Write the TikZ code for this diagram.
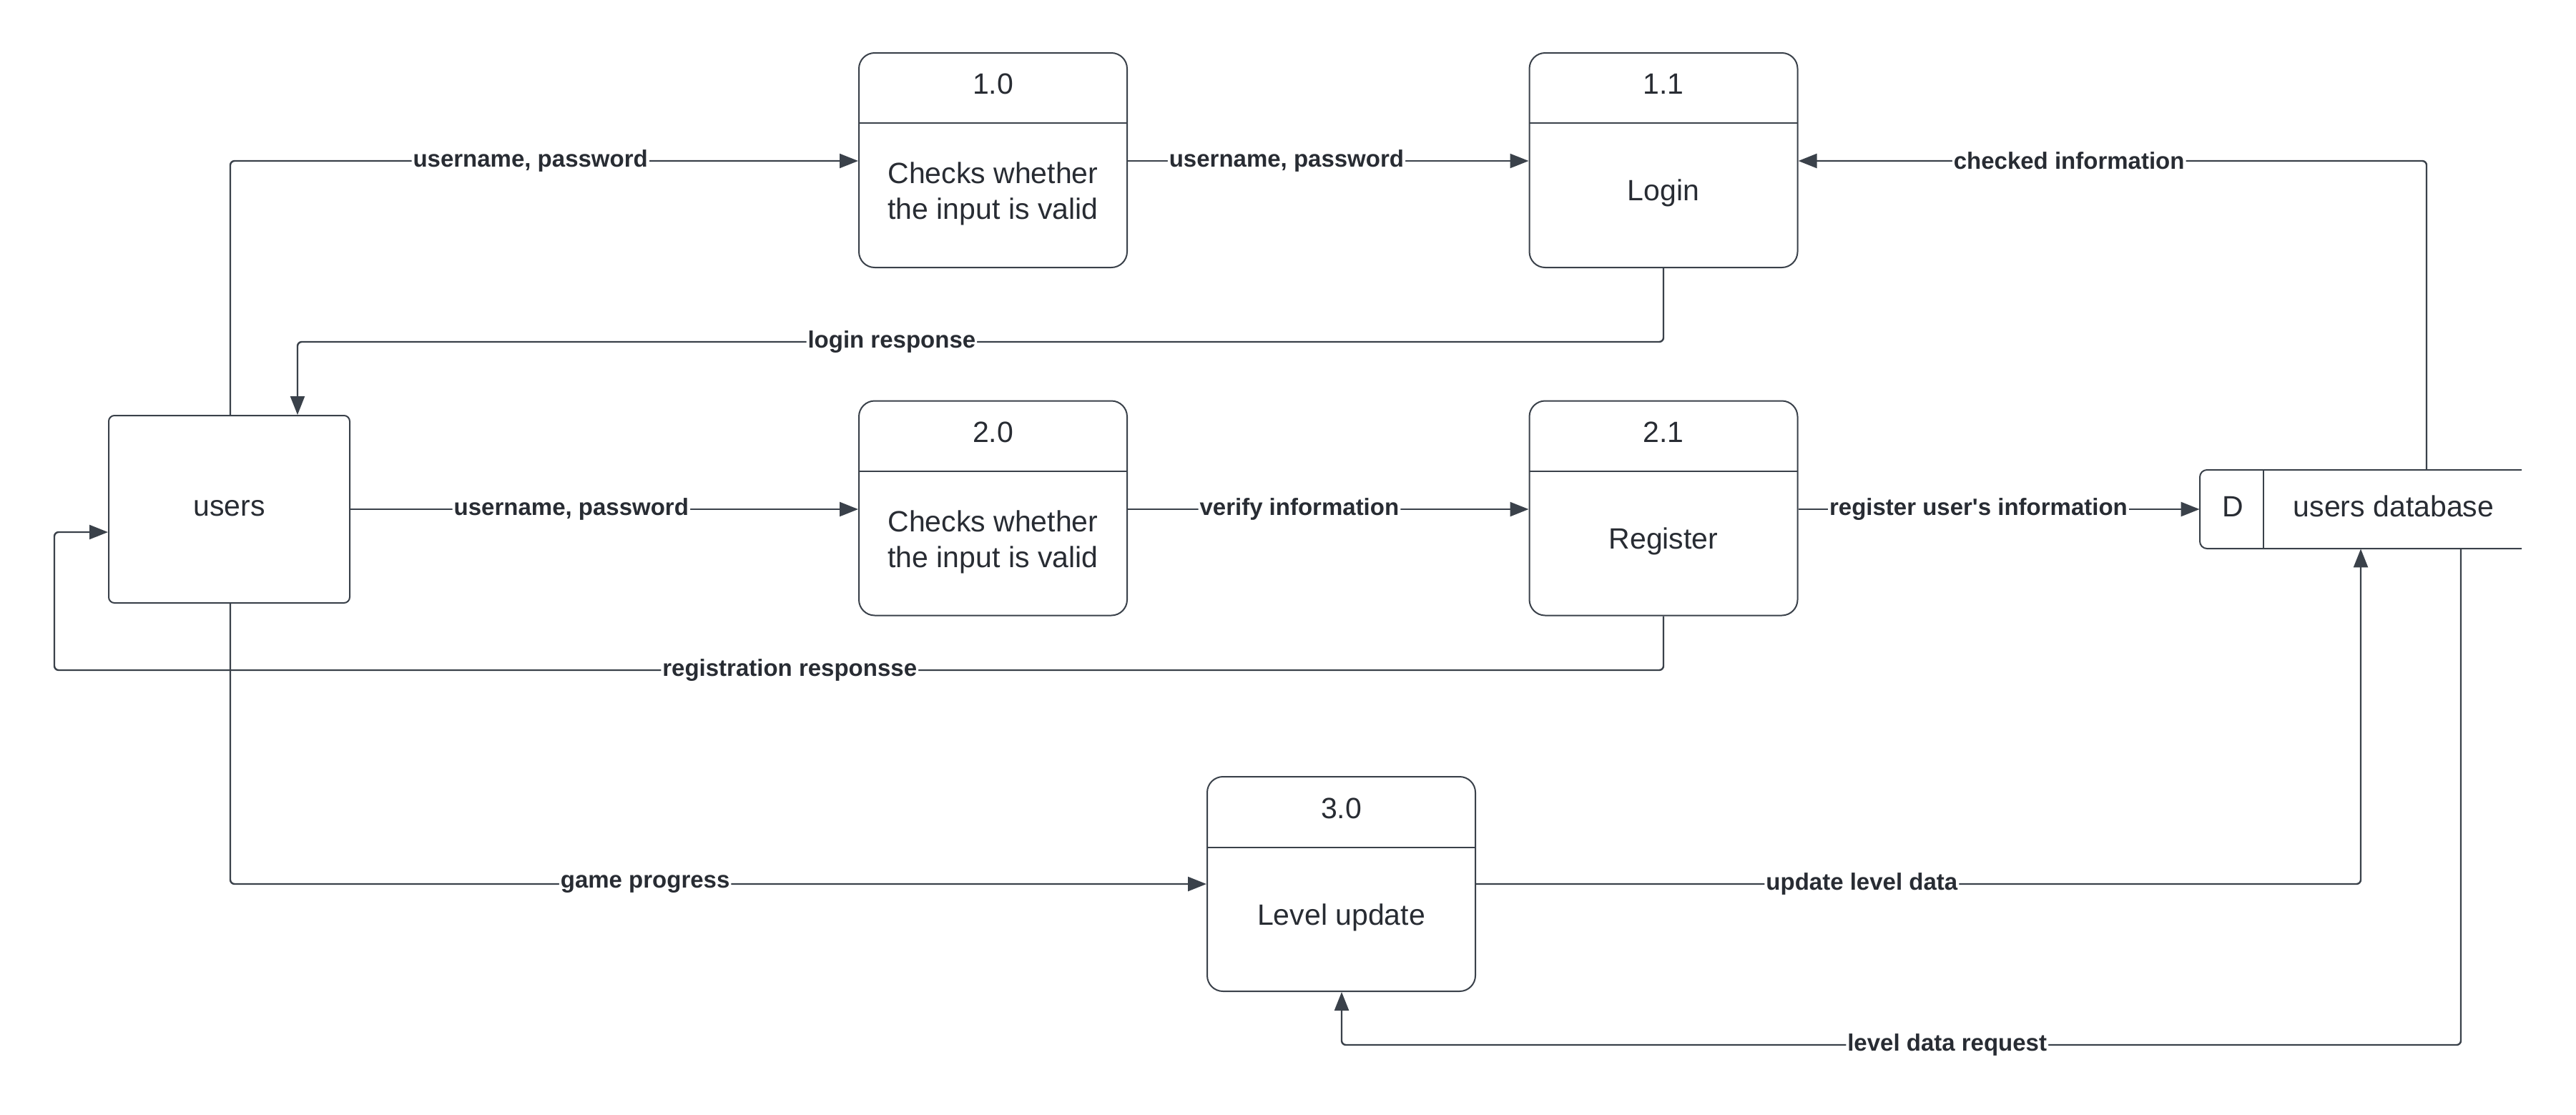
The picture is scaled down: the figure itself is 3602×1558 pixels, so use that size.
\documentclass[tikz,border=0pt]{standalone}
\usepackage{fontspec}
\setmainfont{Liberation Sans}[Ligatures=TeXOff]
\usetikzlibrary{arrows.meta}
\definecolor{ln}{HTML}{3A414A}
\definecolor{tx}{HTML}{282C33}
\begin{document}
\begin{tikzpicture}[x=0.5pt,y=-0.5pt,
  proc/.style={draw=ln,line width=1pt,rounded corners=11pt,minimum width=187.5pt,minimum height=150pt,inner sep=0pt},
  ent/.style={draw=ln,line width=1pt,rounded corners=4pt,minimum width=168.5pt,minimum height=131pt,inner sep=0pt},
  txt/.style={text=tx,font=\fontsize{20.5}{25}\selectfont,align=center,inner sep=0pt},
  lbl/.style={fill=white,text=tx,font=\fontsize{16.5}{19}\selectfont\bfseries,inner xsep=1pt,inner ysep=2pt},
  flow/.style={draw=ln,line width=1.2pt,rounded corners=3pt,-{Triangle[length=13pt,width=10pt]}},
  divider/.style={draw=ln,line width=1pt}
]
\useasboundingbox (0,0) rectangle (3602,1558);

% users entity
\node[ent] (users) at (320.5,712) {};
\node[txt] (userst) at (320.5,711) {users};

% processes
\node[proc] (p10) at (1388.5,224) {};
\node[proc] (p11) at (2326,224) {};
\node[proc] (p20) at (1388.5,710.5) {};
\node[proc] (p21) at (2326,710.5) {};
\node[proc] (p30) at (1875.5,1236) {};

\draw[divider] (1201,172) -- (1576,172);
\draw[divider] (2139,172) -- (2513,172);
\draw[divider] (1201,659) -- (1576,659);
\draw[divider] (2139,659) -- (2513,659);
\draw[divider] (1688,1185) -- (2063,1185);

\node[txt] (n10) at (1388.5,117) {1.0};
\node[txt] (t10) at (1388.5,271) {Checks whether\\the input is valid};
\node[txt] (n11) at (2326,117) {1.1};
\node[txt] (t11) at (2326,270) {Login};
\node[txt] (n20) at (1388.5,604) {2.0};
\node[txt] (t20) at (1388.5,758) {Checks whether\\the input is valid};
\node[txt] (n21) at (2326,604) {2.1};
\node[txt] (t21) at (2326,757) {Register};
\node[txt] (n30) at (1875.5,1130) {3.0};
\node[txt] (t30) at (1875.5,1283) {Level update};

% data store
\node[minimum width=225pt,minimum height=55pt,inner sep=0pt] (db) at (3301,712) {};
\draw[draw=ln,line width=1pt,rounded corners=5pt] (3526,657) -- (3076,657) -- (3076,767) -- (3526,767);
\draw[divider] (3165,657) -- (3165,767);
\node[txt] (dbd) at (3122,708) {D};
\node[txt] (dbt) at (3347,708) {users database};

% coordinates
\coordinate (a1) at (322,225);
\coordinate (a2) at (3393,225);
\coordinate (a3) at (2326,478);
\coordinate (a4) at (416,478);
\coordinate (a5) at (2326,937);
\coordinate (a6) at (76,937);
\coordinate (a7) at (76,744);
\coordinate (a8) at (322,1236);
\coordinate (a9) at (3301,1236);
\coordinate (a10) at (3441,1461);
\coordinate (a11) at (1876,1461);

% flows
\draw[flow] (users.north -| a1) -- (a1) -- node[lbl,pos=0.478]{username, password} (a1 -| p10.west);
\draw[flow] (p10.east |- a1) -- node[lbl,pos=0.396]{username, password} (p11.west |- a1);
\draw[flow] (db.north -| a2) -- (a2) -- node[lbl,pos=0.569]{checked information} (p11.east |- a2);
\draw[flow] (p11.south) -- (a3) -- node[lbl,pos=0.565]{login response} (a4) -- (users.north -| a4);
\draw[flow] (users.east) -- node[lbl,pos=0.435]{username, password} (users.east -| p20.west);
\draw[flow] (p20.east |- users.east) -- node[lbl,pos=0.428]{verify information} (p21.west |- users.east);
\draw[flow] (p21.east |- users.east) -- node[lbl,pos=0.449]{register user's information} (db.west |- users.east);
\draw[flow] (p21.south) -- (a5) -- node[lbl,pos=0.543]{registration responsse} (a6) -- (a7) -- (users.west |- a7);
\draw[flow] (users.south -| a8) -- (a8) -- node[lbl,pos=0.425]{game progress} (p30.west |- a8);
\draw[flow] (p30.east |- a9) -- node[lbl,pos=0.436]{update level data} (a9) -- (db.south -| a9);
\draw[flow] (db.south -| a10) -- (a10) -- node[lbl,pos=0.459]{level data request} (a11) -- (p30.south -| a11);
\end{tikzpicture}
\end{document}
